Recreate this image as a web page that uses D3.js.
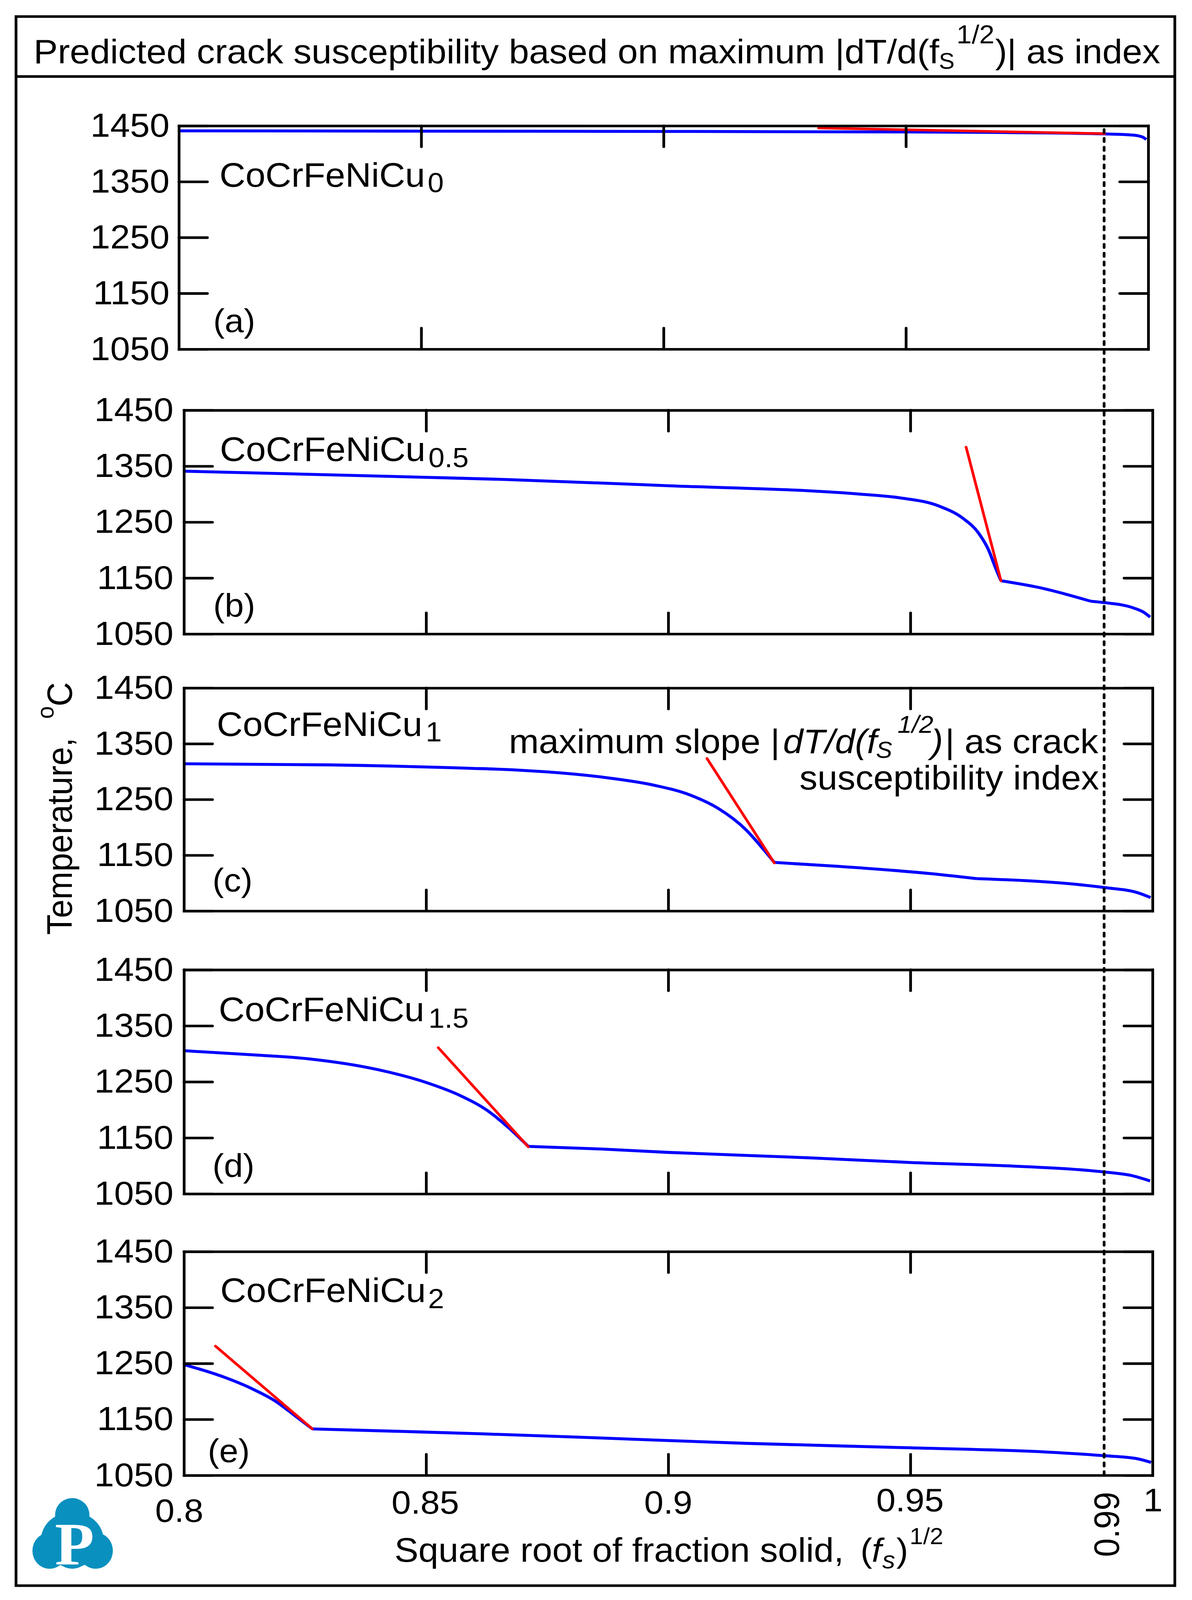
<!DOCTYPE html>
<html>
<head>
<meta charset="utf-8">
<script src="https://cdn.jsdelivr.net/npm/d3@7"></script>
<style>
html, body { margin: 0; padding: 0; background: #fff; overflow: hidden; }
svg text { font-family: "Liberation Sans", Arial, sans-serif; fill: #000; }
</style>
</head>
<body>
<div id="chart"></div>
<script>
// data
var xTicks = [0.8, 0.85, 0.9, 0.95, 1];
var xTickLabels = ['0.8', '0.85', '0.9', '0.95', '1'];
var yTicks = [1050, 1150, 1250, 1350, 1450];
var cutoff = 0.99;
var panelName = 'CoCrFeNiCu';
var panelSubs = ['0', '0.5', '1', '1.5', '2'];
var panelTags = ['(a)', '(b)', '(c)', '(d)', '(e)'];

// each curve is split at its kink so the corner stays sharp
var curveA = [[[0.8,1441],[0.85,1440.5],[0.9,1440],[0.95,1439],[0.97,1438],[0.991,1435.5],[0.9968,1433.5],[0.9988,1430],[0.9996,1425.6]]];
var curveB = [
  [[0.8,1341],[0.85,1330],[0.8669,1326],[0.9,1315],[0.9394,1300],[0.9477,1293.4],[0.9559,1278.6],[0.9608,1257],[0.9641,1230],[0.9662,1199],[0.9674,1172],[0.9687,1145]],
  [[0.9687,1145],[0.9765,1133],[0.9872,1108.5]],
  [[0.9872,1108.5],[0.99,1106],[0.9962,1096],[0.9983,1088],[0.9995,1080]]
];
var curveC = [
  [[0.8,1314],[0.83,1312],[0.8588,1306],[0.8683,1303],[0.8873,1289],[0.8968,1276],[0.9045,1258],[0.9102,1234.5],[0.916,1196],[0.9198,1159],[0.9219,1137]],
  [[0.9219,1137],[0.935,1130],[0.954,1117],[0.9636,1108]],
  [[0.9636,1108],[0.9826,1099],[0.99,1092],[0.9968,1083],[0.9996,1074]]
];
var curveD = [
  [[0.8,1305.5],[0.8144,1298],[0.8258,1291],[0.8399,1272],[0.8501,1248.6],[0.8569,1226],[0.8626,1199],[0.8671,1167.5],[0.8711,1134.7]],
  [[0.8711,1134.7],[0.8862,1130],[0.9,1124],[0.93,1114],[0.95,1106],[0.97,1100],[0.985,1093],[0.99,1089],[0.996,1082],[0.9995,1073]]
];
var curveE = [
  [[0.8,1248],[0.8078,1227],[0.814,1205],[0.8189,1182.5],[0.823,1156],[0.8265,1133]],
  [[0.8265,1133],[0.8484,1127.6],[0.862,1124],[0.885,1117],[0.9165,1107],[0.948,1099.6],[0.9793,1091],[0.99,1085],[0.9966,1080],[0.9997,1073]]
];
var curves = [curveA, curveB, curveC, curveD, curveE];

var tangentA = [[0.932,1446],[0.991,1436]];
var tangentB = [[0.9615,1384],[0.9687,1145]];
var tangentC = [[0.908,1323.5],[0.9219,1136]];
var tangentD = [[0.8525,1311],[0.8711,1134]];
var tangentE = [[0.8065,1281],[0.8265,1133]];
var tangents = [tangentA, tangentB, tangentC, tangentD, tangentE];

// drawn in the reference's pixel space, then fitted to the window
var W = 3052, H = 4349;
var svg = d3.select('#chart').append('svg')
  .attr('width', window.innerWidth).attr('height', window.innerHeight)
  .attr('viewBox', '0 0 ' + W + ' ' + H).attr('preserveAspectRatio', 'none')
  .style('display', 'block');

// text made of runs, for the sub and superscripts
function addRuns(runs) {
  var t = svg.append('text');
  runs.forEach(function(r) {
    var s = t.append('tspan').attr('x', r.x).attr('y', r.y).attr('font-size', r.size).text(r.t);
    if (r.italic) s.attr('font-style', 'italic');
  });
  return t;
}

// outer frame and title line
svg.append('rect').attr('x', 41).attr('y', 45).attr('width', 2967).attr('height', 4265)
  .attr('fill', 'none').attr('stroke', '#000').attr('stroke-width', 7);
svg.append('line').attr('x1', 41).attr('x2', 3008).attr('y1', 208).attr('y2', 208)
  .attr('stroke', '#000').attr('stroke-width', 7);

addRuns([
  {t: 'Predicted crack susceptibility based on maximum |dT/d(f', x: 86, y: 172, size: 92.8},
  {t: 'S', x: 2404, y: 187, size: 60},
  {t: '1/2', x: 2449, y: 118, size: 70},
  {t: ')| as index', x: 2548, y: 172, size: 92}
]);

// panel boxes and where their labels sit
var panels = [
  {l: 458, r: 2940, t: 342, b: 949, pad: 24, nx: 562, ny: 507, sx: 1095, sy: 522, tx: 546, ty: 902},
  {l: 471, r: 2951, t: 1115, b: 1723, pad: 27, nx: 563, ny: 1253, sx: 1097, sy: 1270, tx: 546, ty: 1677},
  {l: 471, r: 2951, t: 1870, b: 2476, pad: 27, nx: 555, ny: 2000, sx: 1090, sy: 2015, tx: 544, ty: 2423},
  {l: 471, r: 2951, t: 2636, b: 3245, pad: 27, nx: 560, ny: 2776, sx: 1097, sy: 2793, tx: 544, ty: 3199},
  {l: 471, r: 2951, t: 3402, b: 4010, pad: 27, nx: 564, ny: 3539, sx: 1096, sy: 3556, tx: 532, ty: 3974}
];

var line = d3.line().curve(d3.curveMonotoneX);
var straight = d3.line();

panels.forEach(function(p, i) {
  var x = d3.scaleLinear().domain([0.8, 1]).range([p.l, p.r]);
  var y = d3.scaleLinear().domain([1050, 1450]).range([p.b, p.t]);
  var g = svg.append('g');
  var px = function(d) { return x(d[0]); };
  var py = function(d) { return y(d[1]); };

  curves[i].forEach(function(seg) {
    g.append('path').datum(seg).attr('fill', 'none').attr('stroke', '#0000ff').attr('stroke-width', 8)
      .attr('d', line.x(px).y(py));
  });
  g.append('path').datum(tangents[i]).attr('fill', 'none').attr('stroke', '#ff0000').attr('stroke-width', 7)
    .attr('stroke-linecap', 'round')
    .attr('d', straight.x(px).y(py));

  g.append('g').attr('transform', 'translate(0,' + p.b + ')')
    .call(d3.axisBottom(x).tickValues(xTicks).tickSizeOuter(0).tickSizeInner(-57).tickFormat(''));
  g.append('g').attr('transform', 'translate(0,' + p.t + ')')
    .call(d3.axisTop(x).tickValues(xTicks).tickSizeOuter(0).tickSizeInner(-57).tickFormat(''));
  var ly = g.append('g').attr('transform', 'translate(' + p.l + ',0)')
    .call(d3.axisLeft(y).tickValues(yTicks).tickSizeOuter(0).tickSizeInner(-73).tickPadding(p.pad).tickFormat(d3.format('d')));
  g.append('g').attr('transform', 'translate(' + p.r + ',0)')
    .call(d3.axisRight(y).tickValues(yTicks).tickSizeOuter(0).tickSizeInner(-73).tickFormat(''));
  ly.selectAll('text').attr('font-size', 91);
  g.selectAll('.domain').attr('stroke', '#000').attr('stroke-width', 7).attr('stroke-linecap', 'square');
  g.selectAll('.tick line').attr('stroke', '#000').attr('stroke-width', 7).attr('stroke-linecap', 'round');

  addRuns([
    {t: panelName, x: p.nx, y: p.ny, size: 92},
    {t: panelSubs[i], x: p.sx, y: p.sy, size: 74}
  ]);
  svg.append('text').attr('x', p.tx).attr('y', p.ty).attr('font-size', 88).text(panelTags[i]);
});

// bottom x labels, they do not sit on one line in the reference
var xBottom = d3.scaleLinear().domain([0.8, 1]).range([panels[4].l, panels[4].r]);
var xLabelY = [4137, 4114, 4114, 4108, 4108];
var xLabelDx = [-12, -2, 0, -1, 1];
svg.selectAll('.xlab').data(xTicks).enter().append('text').attr('class', 'xlab')
  .attr('x', function(d, i) { return xBottom(d) + xLabelDx[i]; })
  .attr('y', function(d, i) { return xLabelY[i]; })
  .attr('font-size', 89).attr('text-anchor', 'middle')
  .text(function(d, i) { return xTickLabels[i]; });

// dashed line at 0.99
svg.append('line').attr('x1', xBottom(cutoff)).attr('x2', xBottom(cutoff)).attr('y1', 352).attr('y2', 4016)
  .attr('stroke', '#000').attr('stroke-width', 7).attr('stroke-dasharray', '9 15').attr('stroke-linecap', 'round');
svg.append('text').attr('transform', 'translate(2865,4232) rotate(-90)').attr('font-size', 91).text('0.99');

addRuns([
  {t: 'Square root of fraction solid,', x: 1010, y: 4245, size: 92},
  {t: '(', x: 2203, y: 4245, size: 91},
  {t: 'f', x: 2232, y: 4245, size: 91, italic: true},
  {t: 's', x: 2259, y: 4263, size: 66, italic: true},
  {t: ')', x: 2295, y: 4245, size: 91},
  {t: '1/2', x: 2329, y: 4197, size: 62}
]);

// y title, rotated
var yl = svg.append('text').attr('transform', 'translate(184,2541) rotate(-90)').attr('font-size', 91);
yl.append('tspan').attr('x', 0).attr('y', 0).text('Temperature,');
yl.append('tspan').attr('x', 587).attr('y', -47).attr('font-size', 62).text('o');
yl.append('tspan').attr('x', 621).attr('y', 0).text('C');

// note in panel c
addRuns([
  {t: 'maximum slope |', x: 1303, y: 2047, size: 92},
  {t: 'dT/d(f', x: 2005, y: 2047, size: 92, italic: true},
  {t: 'S', x: 2243, y: 2060, size: 62, italic: true},
  {t: '1/2', x: 2298, y: 1992, size: 66, italic: true},
  {t: ')', x: 2384, y: 2047, size: 92, italic: true},
  {t: '| as crack', x: 2420, y: 2047, size: 92}
]);
svg.append('text').attr('x', 2814).attr('y', 2146).attr('text-anchor', 'end').attr('font-size', 92).text('susceptibility index');

// logo
var logo = svg.append('g').attr('fill', '#0a90bf');
logo.append('ellipse').attr('cx', 185).attr('cy', 4118).attr('rx', 44).attr('ry', 46);
logo.append('ellipse').attr('cx', 185).attr('cy', 4185).attr('rx', 80).attr('ry', 75);
logo.append('ellipse').attr('cx', 127).attr('cy', 4215).attr('rx', 44).attr('ry', 49);
logo.append('ellipse').attr('cx', 245).attr('cy', 4215).attr('rx', 44).attr('ry', 49);
logo.append('ellipse').attr('cx', 185).attr('cy', 4220).attr('rx', 45).attr('ry', 44);
svg.append('text').attr('x', 191).attr('y', 4252).attr('text-anchor', 'middle').attr('font-size', 165)
  .attr('font-weight', 'bold').style('font-family', '"Liberation Serif", serif').style('fill', '#fff').text('P');
</script>
</body>
</html>
